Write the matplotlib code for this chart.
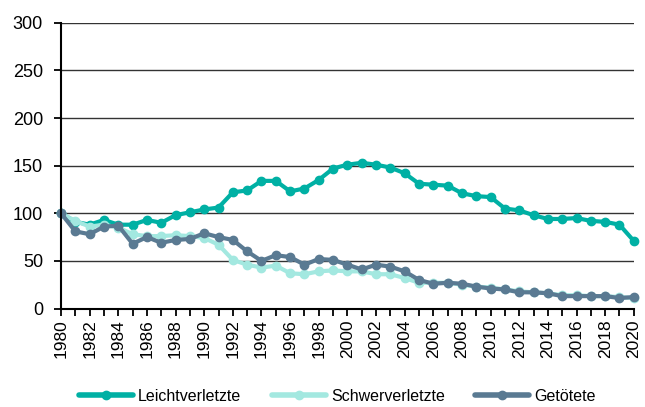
import matplotlib
matplotlib.use("Agg")
import matplotlib.pyplot as plt

years = list(range(1980, 2021))

leicht = [100, 91, 88, 93, 88, 88, 93, 90, 98, 101, 104, 106, 122, 124, 134, 134,
          123, 126, 135, 147, 151, 153, 151, 148, 142, 131, 130, 129, 121, 118, 117,
          105, 103, 98, 94, 94, 95, 92, 91, 88, 71]
schwer = [100, 92, 86, 88, 85, 78, 76, 76, 77, 76, 74, 67, 51, 46, 43, 45,
          37, 36, 39, 40, 39, 39, 36, 36, 32, 27, 27, 27, 25, 23, 22,
          20, 18, 17, 16, 14, 14, 13, 13, 12, 11]
getoetet = [100, 81, 78, 86, 87, 68, 75, 69, 72, 73, 79, 75, 72, 60, 50, 56,
            54, 46, 52, 51, 46, 41, 46, 44, 39, 30, 26, 27, 26, 23, 21,
            20, 17, 17, 16, 13, 13, 13, 13, 11, 12]

series = [("Leichtverletzte", leicht, "#00b0a4"),
          ("Schwerverletzte", schwer, "#a3e8e0"),
          ("Getötete", getoetet, "#5a7a92")]

font = ["Liberation Sans", "DejaVu Sans"]

fig = plt.figure(figsize=(6.45, 4.07), dpi=100)
ax = fig.add_axes([0.0946, 0.242, 0.888, 0.702])

for name, vals, col in series:
    ax.plot(years, vals, "-o", color=col, lw=3, ms=6, label=name,
            solid_capstyle="round", clip_on=False)

ax.set_xlim(1980, 2020)
ax.set_ylim(0, 300)
ax.set_yticks(range(0, 301, 50))
ax.yaxis.grid(True, color="#333333", lw=1)
ax.set_axisbelow(True)

ax.set_xticks(years, minor=True)
ax.set_xticks(range(1980, 2021, 2))
ax.set_xticklabels([str(y) for y in range(1980, 2021, 2)], rotation=90,
                   fontsize=12.5, family=font)
for lab in ax.get_yticklabels():
    lab.set_fontsize(13)
    lab.set_family(font)

ax.tick_params(axis="x", which="both", direction="out", length=5, width=1.3,
               pad=3)
ax.tick_params(axis="y", direction="out", length=5, width=1.3, pad=8)

for s in ["top", "right"]:
    ax.spines[s].set_visible(False)
for s in ["left", "bottom"]:
    ax.spines[s].set_linewidth(1.5)
    ax.spines[s].set_zorder(3)

leg = fig.legend(loc="center", bbox_to_anchor=(0.523, 0.027), ncol=3,
                 frameon=False, handlelength=3.4, handletextpad=0.3,
                 columnspacing=1.9, prop={"family": font, "size": 11.5})
for h in leg.get_lines():
    h.set_linewidth(4)

fig.savefig("out.png", dpi=100)
